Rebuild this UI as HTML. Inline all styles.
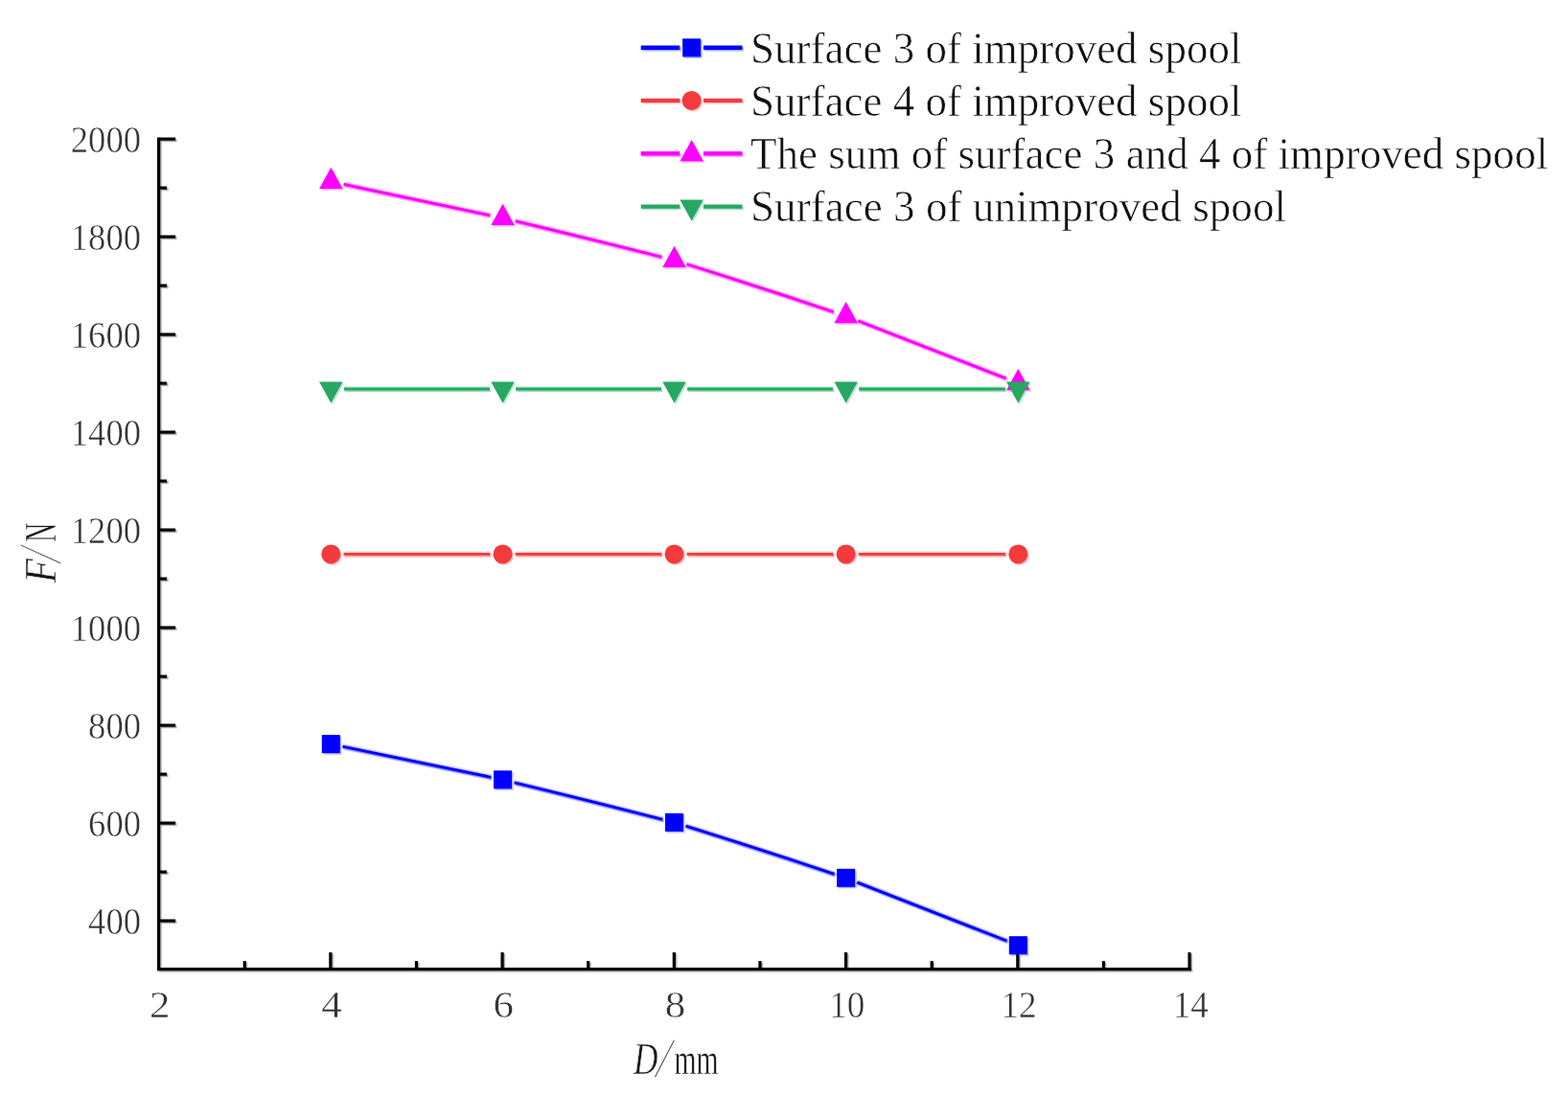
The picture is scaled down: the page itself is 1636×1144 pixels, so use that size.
<!DOCTYPE html>
<html><head><meta charset="utf-8"><style>html,body{margin:0;padding:0;background:#fff;overflow:hidden;width:1636px;height:1144px;}svg{display:block;}</style></head><body>
<svg width="1636" height="1144" viewBox="0 0 1636 1144">
<rect width="1636" height="1144" fill="#fff"/>
<defs>
<mask id="m_blue" maskUnits="userSpaceOnUse" x="-10" y="-10" width="1656" height="1164"><rect x="-10" y="-10" width="1656" height="1164" fill="#fff"/><circle cx="345.30" cy="776.60" r="12.5" fill="#000"/><circle cx="524.50" cy="813.80" r="12.5" fill="#000"/><circle cx="703.50" cy="858.40" r="12.5" fill="#000"/><circle cx="882.60" cy="916.30" r="12.5" fill="#000"/><circle cx="1062.30" cy="986.70" r="12.5" fill="#000"/></mask>
<mask id="m_red" maskUnits="userSpaceOnUse" x="-10" y="-10" width="1656" height="1164"><rect x="-10" y="-10" width="1656" height="1164" fill="#fff"/><circle cx="345.30" cy="578.40" r="13.2" fill="#000"/><circle cx="524.50" cy="578.40" r="13.2" fill="#000"/><circle cx="703.50" cy="578.40" r="13.2" fill="#000"/><circle cx="882.60" cy="578.40" r="13.2" fill="#000"/><circle cx="1062.30" cy="578.40" r="13.2" fill="#000"/></mask>
<mask id="m_mag" maskUnits="userSpaceOnUse" x="-10" y="-10" width="1656" height="1164"><rect x="-10" y="-10" width="1656" height="1164" fill="#fff"/><circle cx="345.30" cy="189.50" r="13.6" fill="#000"/><circle cx="524.50" cy="227.50" r="13.6" fill="#000"/><circle cx="703.50" cy="271.60" r="13.6" fill="#000"/><circle cx="882.60" cy="329.80" r="13.6" fill="#000"/><circle cx="1062.30" cy="399.90" r="13.6" fill="#000"/></mask>
<mask id="m_green" maskUnits="userSpaceOnUse" x="-10" y="-10" width="1656" height="1164"><rect x="-10" y="-10" width="1656" height="1164" fill="#fff"/><circle cx="345.30" cy="406.00" r="13.6" fill="#000"/><circle cx="524.50" cy="406.00" r="13.6" fill="#000"/><circle cx="703.50" cy="406.00" r="13.6" fill="#000"/><circle cx="882.60" cy="406.00" r="13.6" fill="#000"/><circle cx="1062.30" cy="406.00" r="13.6" fill="#000"/></mask>
</defs>
<g transform="translate(1.5,1.5)" opacity="0.3">
<g stroke="#000" stroke-width="3.2" fill="none">
<path d="M165.60,143.50 V1011.60 H1243.00"/>
<path d="M165.60,961.10 h17.5"/>
<path d="M165.60,910.10 h8.5"/>
<path d="M165.60,859.10 h17.5"/>
<path d="M165.60,808.10 h8.5"/>
<path d="M165.60,757.10 h17.5"/>
<path d="M165.60,706.10 h8.5"/>
<path d="M165.60,655.10 h17.5"/>
<path d="M165.60,604.10 h8.5"/>
<path d="M165.60,553.10 h17.5"/>
<path d="M165.60,502.10 h8.5"/>
<path d="M165.60,451.10 h17.5"/>
<path d="M165.60,400.10 h8.5"/>
<path d="M165.60,349.10 h17.5"/>
<path d="M165.60,298.10 h8.5"/>
<path d="M165.60,247.10 h17.5"/>
<path d="M165.60,196.10 h8.5"/>
<path d="M165.60,145.10 h17.5"/>
<path d="M255.22,1011.60 v-8.5"/>
<path d="M344.84,1011.60 v-17.5"/>
<path d="M434.46,1011.60 v-8.5"/>
<path d="M524.08,1011.60 v-17.5"/>
<path d="M613.70,1011.60 v-8.5"/>
<path d="M703.32,1011.60 v-17.5"/>
<path d="M792.94,1011.60 v-8.5"/>
<path d="M882.56,1011.60 v-17.5"/>
<path d="M972.18,1011.60 v-8.5"/>
<path d="M1061.80,1011.60 v-17.5"/>
<path d="M1151.42,1011.60 v-8.5"/>
<path d="M1241.04,1011.60 v-17.5"/>
</g>
<path d="M345.30,776.60 C405.03,788.87 464.77,801.15 524.50,813.80 C584.17,828.18 643.83,842.93 703.50,858.40 C763.20,876.98 822.90,896.27 882.60,916.30 C942.50,939.27 1002.40,962.99 1062.30,986.70" fill="none" stroke="#0000ff" stroke-width="6" stroke-opacity="0.2" mask="url(#m_blue)"/>
<path d="M345.30,776.60 C405.03,788.87 464.77,801.15 524.50,813.80 C584.17,828.18 643.83,842.93 703.50,858.40 C763.20,876.98 822.90,896.27 882.60,916.30 C942.50,939.27 1002.40,962.99 1062.30,986.70" fill="none" stroke="#0000ff" stroke-width="2.9" mask="url(#m_blue)"/>
<rect x="335.80" y="767.10" width="19.0" height="19.0" fill="#0000ff"/>
<rect x="515.00" y="804.30" width="19.0" height="19.0" fill="#0000ff"/>
<rect x="694.00" y="848.90" width="19.0" height="19.0" fill="#0000ff"/>
<rect x="873.10" y="906.80" width="19.0" height="19.0" fill="#0000ff"/>
<rect x="1052.80" y="977.20" width="19.0" height="19.0" fill="#0000ff"/>
<path d="M345.30,578.40 C405.03,578.40 464.77,578.40 524.50,578.40 C584.17,578.40 643.83,578.40 703.50,578.40 C763.20,578.40 822.90,578.40 882.60,578.40 C942.50,578.40 1002.40,578.40 1062.30,578.40" fill="none" stroke="#f43a3c" stroke-width="6" stroke-opacity="0.2" mask="url(#m_red)"/>
<path d="M345.30,578.40 C405.03,578.40 464.77,578.40 524.50,578.40 C584.17,578.40 643.83,578.40 703.50,578.40 C763.20,578.40 822.90,578.40 882.60,578.40 C942.50,578.40 1002.40,578.40 1062.30,578.40" fill="none" stroke="#f43a3c" stroke-width="2.9" mask="url(#m_red)"/>
<circle cx="345.30" cy="578.40" r="10.0" fill="#f43a3c"/>
<circle cx="524.50" cy="578.40" r="10.0" fill="#f43a3c"/>
<circle cx="703.50" cy="578.40" r="10.0" fill="#f43a3c"/>
<circle cx="882.60" cy="578.40" r="10.0" fill="#f43a3c"/>
<circle cx="1062.30" cy="578.40" r="10.0" fill="#f43a3c"/>
<path d="M345.30,189.50 C405.03,202.08 464.77,214.66 524.50,227.50 C584.17,241.76 643.83,256.27 703.50,271.60 C763.20,290.23 822.90,309.68 882.60,329.80 C942.50,352.72 1002.40,376.31 1062.30,399.90" fill="none" stroke="#ff00ff" stroke-width="6" stroke-opacity="0.2" mask="url(#m_mag)"/>
<path d="M345.30,189.50 C405.03,202.08 464.77,214.66 524.50,227.50 C584.17,241.76 643.83,256.27 703.50,271.60 C763.20,290.23 822.90,309.68 882.60,329.80 C942.50,352.72 1002.40,376.31 1062.30,399.90" fill="none" stroke="#ff00ff" stroke-width="2.9" mask="url(#m_mag)"/>
<polygon points="345.30,174.70 357.50,196.90 333.10,196.90" fill="#ff00ff"/>
<polygon points="524.50,212.70 536.70,234.90 512.30,234.90" fill="#ff00ff"/>
<polygon points="703.50,256.80 715.70,279.00 691.30,279.00" fill="#ff00ff"/>
<polygon points="882.60,315.00 894.80,337.20 870.40,337.20" fill="#ff00ff"/>
<polygon points="1062.30,385.10 1074.50,407.30 1050.10,407.30" fill="#ff00ff"/>
<path d="M345.30,406.00 C405.03,406.00 464.77,406.00 524.50,406.00 C584.17,406.00 643.83,406.00 703.50,406.00 C763.20,406.00 822.90,406.00 882.60,406.00 C942.50,406.00 1002.40,406.00 1062.30,406.00" fill="none" stroke="#26a862" stroke-width="6" stroke-opacity="0.2" mask="url(#m_green)"/>
<path d="M345.30,406.00 C405.03,406.00 464.77,406.00 524.50,406.00 C584.17,406.00 643.83,406.00 703.50,406.00 C763.20,406.00 822.90,406.00 882.60,406.00 C942.50,406.00 1002.40,406.00 1062.30,406.00" fill="none" stroke="#26a862" stroke-width="2.9" mask="url(#m_green)"/>
<polygon points="345.30,420.80 357.50,398.60 333.10,398.60" fill="#26a862"/>
<polygon points="524.50,420.80 536.70,398.60 512.30,398.60" fill="#26a862"/>
<polygon points="703.50,420.80 715.70,398.60 691.30,398.60" fill="#26a862"/>
<polygon points="882.60,420.80 894.80,398.60 870.40,398.60" fill="#26a862"/>
<polygon points="1062.30,420.80 1074.50,398.60 1050.10,398.60" fill="#26a862"/>
<path d="M668.7,49.8 H709.2 M733.9,49.8 H774.4" stroke="#0000ff" stroke-width="4.4"/>
<rect x="712.10" y="40.30" width="19.0" height="19.0" fill="#0000ff"/>
<path d="M668.7,104.9 H709.2 M733.9,104.9 H774.4" stroke="#f43a3c" stroke-width="4.4"/>
<circle cx="721.60" cy="104.90" r="10.0" fill="#f43a3c"/>
<path d="M668.7,160.3 H709.2 M733.9,160.3 H774.4" stroke="#ff00ff" stroke-width="4.4"/>
<polygon points="721.60,146.10 733.80,168.30 709.40,168.30" fill="#ff00ff"/>
<path d="M668.7,215.6 H709.2 M733.9,215.6 H774.4" stroke="#26a862" stroke-width="4.4"/>
<polygon points="721.60,230.60 733.80,208.40 709.40,208.40" fill="#26a862"/>
</g>
<g>
<g stroke="#000" stroke-width="3.2" fill="none">
<path d="M165.60,143.50 V1011.60 H1243.00"/>
<path d="M165.60,961.10 h17.5"/>
<path d="M165.60,910.10 h8.5"/>
<path d="M165.60,859.10 h17.5"/>
<path d="M165.60,808.10 h8.5"/>
<path d="M165.60,757.10 h17.5"/>
<path d="M165.60,706.10 h8.5"/>
<path d="M165.60,655.10 h17.5"/>
<path d="M165.60,604.10 h8.5"/>
<path d="M165.60,553.10 h17.5"/>
<path d="M165.60,502.10 h8.5"/>
<path d="M165.60,451.10 h17.5"/>
<path d="M165.60,400.10 h8.5"/>
<path d="M165.60,349.10 h17.5"/>
<path d="M165.60,298.10 h8.5"/>
<path d="M165.60,247.10 h17.5"/>
<path d="M165.60,196.10 h8.5"/>
<path d="M165.60,145.10 h17.5"/>
<path d="M255.22,1011.60 v-8.5"/>
<path d="M344.84,1011.60 v-17.5"/>
<path d="M434.46,1011.60 v-8.5"/>
<path d="M524.08,1011.60 v-17.5"/>
<path d="M613.70,1011.60 v-8.5"/>
<path d="M703.32,1011.60 v-17.5"/>
<path d="M792.94,1011.60 v-8.5"/>
<path d="M882.56,1011.60 v-17.5"/>
<path d="M972.18,1011.60 v-8.5"/>
<path d="M1061.80,1011.60 v-17.5"/>
<path d="M1151.42,1011.60 v-8.5"/>
<path d="M1241.04,1011.60 v-17.5"/>
</g>
<path d="M345.30,776.60 C405.03,788.87 464.77,801.15 524.50,813.80 C584.17,828.18 643.83,842.93 703.50,858.40 C763.20,876.98 822.90,896.27 882.60,916.30 C942.50,939.27 1002.40,962.99 1062.30,986.70" fill="none" stroke="#0000ff" stroke-width="6" stroke-opacity="0.2" mask="url(#m_blue)"/>
<path d="M345.30,776.60 C405.03,788.87 464.77,801.15 524.50,813.80 C584.17,828.18 643.83,842.93 703.50,858.40 C763.20,876.98 822.90,896.27 882.60,916.30 C942.50,939.27 1002.40,962.99 1062.30,986.70" fill="none" stroke="#0000ff" stroke-width="2.9" mask="url(#m_blue)"/>
<rect x="335.80" y="767.10" width="19.0" height="19.0" fill="#0000ff"/>
<rect x="515.00" y="804.30" width="19.0" height="19.0" fill="#0000ff"/>
<rect x="694.00" y="848.90" width="19.0" height="19.0" fill="#0000ff"/>
<rect x="873.10" y="906.80" width="19.0" height="19.0" fill="#0000ff"/>
<rect x="1052.80" y="977.20" width="19.0" height="19.0" fill="#0000ff"/>
<path d="M345.30,578.40 C405.03,578.40 464.77,578.40 524.50,578.40 C584.17,578.40 643.83,578.40 703.50,578.40 C763.20,578.40 822.90,578.40 882.60,578.40 C942.50,578.40 1002.40,578.40 1062.30,578.40" fill="none" stroke="#f43a3c" stroke-width="6" stroke-opacity="0.2" mask="url(#m_red)"/>
<path d="M345.30,578.40 C405.03,578.40 464.77,578.40 524.50,578.40 C584.17,578.40 643.83,578.40 703.50,578.40 C763.20,578.40 822.90,578.40 882.60,578.40 C942.50,578.40 1002.40,578.40 1062.30,578.40" fill="none" stroke="#f43a3c" stroke-width="2.9" mask="url(#m_red)"/>
<circle cx="345.30" cy="578.40" r="10.0" fill="#f43a3c"/>
<circle cx="524.50" cy="578.40" r="10.0" fill="#f43a3c"/>
<circle cx="703.50" cy="578.40" r="10.0" fill="#f43a3c"/>
<circle cx="882.60" cy="578.40" r="10.0" fill="#f43a3c"/>
<circle cx="1062.30" cy="578.40" r="10.0" fill="#f43a3c"/>
<path d="M345.30,189.50 C405.03,202.08 464.77,214.66 524.50,227.50 C584.17,241.76 643.83,256.27 703.50,271.60 C763.20,290.23 822.90,309.68 882.60,329.80 C942.50,352.72 1002.40,376.31 1062.30,399.90" fill="none" stroke="#ff00ff" stroke-width="6" stroke-opacity="0.2" mask="url(#m_mag)"/>
<path d="M345.30,189.50 C405.03,202.08 464.77,214.66 524.50,227.50 C584.17,241.76 643.83,256.27 703.50,271.60 C763.20,290.23 822.90,309.68 882.60,329.80 C942.50,352.72 1002.40,376.31 1062.30,399.90" fill="none" stroke="#ff00ff" stroke-width="2.9" mask="url(#m_mag)"/>
<polygon points="345.30,174.70 357.50,196.90 333.10,196.90" fill="#ff00ff"/>
<polygon points="524.50,212.70 536.70,234.90 512.30,234.90" fill="#ff00ff"/>
<polygon points="703.50,256.80 715.70,279.00 691.30,279.00" fill="#ff00ff"/>
<polygon points="882.60,315.00 894.80,337.20 870.40,337.20" fill="#ff00ff"/>
<polygon points="1062.30,385.10 1074.50,407.30 1050.10,407.30" fill="#ff00ff"/>
<path d="M345.30,406.00 C405.03,406.00 464.77,406.00 524.50,406.00 C584.17,406.00 643.83,406.00 703.50,406.00 C763.20,406.00 822.90,406.00 882.60,406.00 C942.50,406.00 1002.40,406.00 1062.30,406.00" fill="none" stroke="#26a862" stroke-width="6" stroke-opacity="0.2" mask="url(#m_green)"/>
<path d="M345.30,406.00 C405.03,406.00 464.77,406.00 524.50,406.00 C584.17,406.00 643.83,406.00 703.50,406.00 C763.20,406.00 822.90,406.00 882.60,406.00 C942.50,406.00 1002.40,406.00 1062.30,406.00" fill="none" stroke="#26a862" stroke-width="2.9" mask="url(#m_green)"/>
<polygon points="345.30,420.80 357.50,398.60 333.10,398.60" fill="#26a862"/>
<polygon points="524.50,420.80 536.70,398.60 512.30,398.60" fill="#26a862"/>
<polygon points="703.50,420.80 715.70,398.60 691.30,398.60" fill="#26a862"/>
<polygon points="882.60,420.80 894.80,398.60 870.40,398.60" fill="#26a862"/>
<polygon points="1062.30,420.80 1074.50,398.60 1050.10,398.60" fill="#26a862"/>
<path d="M668.7,49.8 H709.2 M733.9,49.8 H774.4" stroke="#0000ff" stroke-width="4.4"/>
<rect x="712.10" y="40.30" width="19.0" height="19.0" fill="#0000ff"/>
<path d="M668.7,104.9 H709.2 M733.9,104.9 H774.4" stroke="#f43a3c" stroke-width="4.4"/>
<circle cx="721.60" cy="104.90" r="10.0" fill="#f43a3c"/>
<path d="M668.7,160.3 H709.2 M733.9,160.3 H774.4" stroke="#ff00ff" stroke-width="4.4"/>
<polygon points="721.60,146.10 733.80,168.30 709.40,168.30" fill="#ff00ff"/>
<path d="M668.7,215.6 H709.2 M733.9,215.6 H774.4" stroke="#26a862" stroke-width="4.4"/>
<polygon points="721.60,230.60 733.80,208.40 709.40,208.40" fill="#26a862"/>
</g>
<g style="font-family:&quot;Liberation Serif&quot;,serif;font-size:39.5px" fill="#333" stroke="#fff" stroke-width="0.5">
<text x="147" y="975.30" text-anchor="end" textLength="54.9" lengthAdjust="spacingAndGlyphs">400</text>
<text x="147" y="873.30" text-anchor="end" textLength="54.9" lengthAdjust="spacingAndGlyphs">600</text>
<text x="147" y="771.30" text-anchor="end" textLength="54.9" lengthAdjust="spacingAndGlyphs">800</text>
<text x="147" y="669.30" text-anchor="end" textLength="73.2" lengthAdjust="spacingAndGlyphs">1000</text>
<text x="147" y="567.30" text-anchor="end" textLength="73.2" lengthAdjust="spacingAndGlyphs">1200</text>
<text x="147" y="465.30" text-anchor="end" textLength="73.2" lengthAdjust="spacingAndGlyphs">1400</text>
<text x="147" y="363.30" text-anchor="end" textLength="73.2" lengthAdjust="spacingAndGlyphs">1600</text>
<text x="147" y="261.30" text-anchor="end" textLength="73.2" lengthAdjust="spacingAndGlyphs">1800</text>
<text x="147" y="159.30" text-anchor="end" textLength="73.2" lengthAdjust="spacingAndGlyphs">2000</text>
<text x="166.80" y="1061.6" text-anchor="middle" textLength="21.5" lengthAdjust="spacingAndGlyphs">2</text>
<text x="346.04" y="1061.6" text-anchor="middle" textLength="21.5" lengthAdjust="spacingAndGlyphs">4</text>
<text x="525.28" y="1061.6" text-anchor="middle" textLength="21.5" lengthAdjust="spacingAndGlyphs">6</text>
<text x="704.52" y="1061.6" text-anchor="middle" textLength="21.5" lengthAdjust="spacingAndGlyphs">8</text>
<text x="883.76" y="1061.6" text-anchor="middle" textLength="37.2" lengthAdjust="spacingAndGlyphs">10</text>
<text x="1063.00" y="1061.6" text-anchor="middle" textLength="37.2" lengthAdjust="spacingAndGlyphs">12</text>
<text x="1242.24" y="1061.6" text-anchor="middle" textLength="37.2" lengthAdjust="spacingAndGlyphs">14</text>
</g>
<g style="font-family:&quot;Liberation Serif&quot;,serif;font-size:46px" fill="#111" stroke="#fff" stroke-width="0.6">
<text x="783" y="65.8" textLength="512.4" lengthAdjust="spacingAndGlyphs">Surface 3 of improved spool</text>
<text x="783" y="120.8" textLength="512.4" lengthAdjust="spacingAndGlyphs">Surface 4 of improved spool</text>
<text x="783" y="175.9" textLength="832.2" lengthAdjust="spacingAndGlyphs">The sum of surface 3 and 4 of improved spool</text>
<text x="783" y="231.0" textLength="559.0" lengthAdjust="spacingAndGlyphs">Surface 3 of unimproved spool</text>
</g>
<g style="font-family:&quot;Liberation Serif&quot;,serif;font-size:47px" fill="#1a1a1a" stroke="#fff" stroke-width="0.5">
<text x="661" y="1120.6" font-style="italic" textLength="25.5" lengthAdjust="spacingAndGlyphs">D</text>
<text transform="translate(682.8,1124.3) skewX(-19.5) scale(0.6,1.24)" x="0" y="0">/</text>
<text x="703.5" y="1120.6" textLength="46" lengthAdjust="spacingAndGlyphs">mm</text>
<g transform="translate(57.8,611) rotate(-90)">
<text x="2.5" y="0" font-style="italic" textLength="25.5" lengthAdjust="spacingAndGlyphs">F</text>
<text transform="translate(22.5,4.9) skewX(-16.6) scale(0.6,1.343)" x="0" y="0">/</text>
<text x="45.3" y="0" textLength="20" lengthAdjust="spacingAndGlyphs">N</text>
</g></g>
</svg>
</body></html>
